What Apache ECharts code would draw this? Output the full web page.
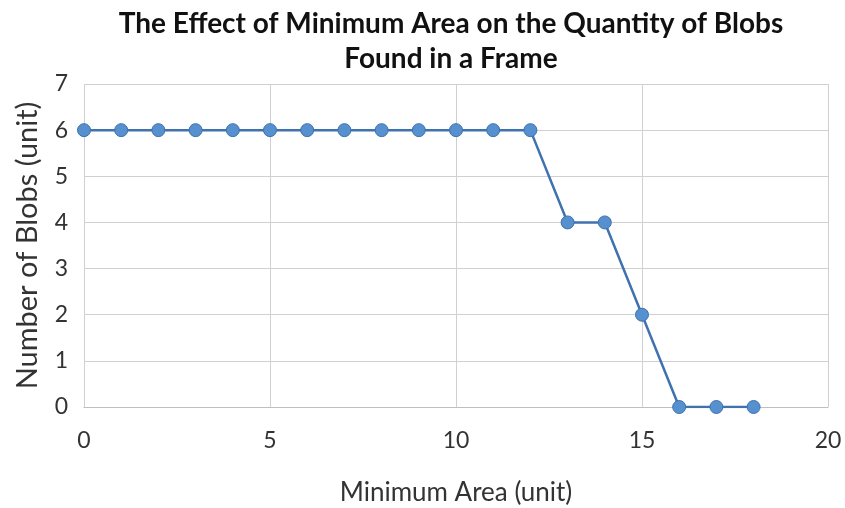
<!DOCTYPE html>
<html>
<head>
<meta charset="utf-8">
<script src="https://cdn.jsdelivr.net/npm/echarts@6/dist/echarts.min.js"></script>
<style>
  html, body { margin: 0; padding: 0; background: #fff; }
  #chart { width: 845px; height: 508px; }
</style>
</head>
<body>
<div id="chart"></div>
<script>
// Minimum area setting (x) and blob count found (y)
const minArea = [0, 1, 2, 3, 4, 5, 6, 7, 8, 9, 10, 11, 12, 13, 14, 15, 16, 17, 18];
const blobCount = [6, 6, 6, 6, 6, 6, 6, 6, 6, 6, 6, 6, 6, 4, 4, 2, 0, 0, 0];

const titleText = 'The Effect of Minimum Area on the Quantity of Blobs\nFound in a Frame';
const xName = 'Minimum Area (unit)';
const yName = 'Number of Blobs (unit)';

const points = minArea.map((x, i) => [x, blobCount[i]]);

const font = 'Lato, "Open Sans", sans-serif';
const chart = echarts.init(document.getElementById('chart'));
chart.setOption({
  animation: false,
  backgroundColor: '#ffffff',
  title: {
    text: titleText,
    left: 446,
    textAlign: 'center',
    top: 1,
    textStyle: {
      fontFamily: font,
      fontWeight: 'bold',
      fontSize: 28,
      lineHeight: 35,
      color: '#111'
    }
  },
  grid: { left: 84, right: 17, top: 84, bottom: 101, outerBoundsMode: 'none', containLabel: false },
  xAxis: {
    type: 'value',
    min: 0, max: 20, interval: 5,
    name: xName,
    nameLocation: 'middle',
    nameGap: 73,
    nameTextStyle: { fontFamily: font, fontSize: 26, color: '#333' },
    axisLine: { show: true, lineStyle: { color: '#bfbfbf', width: 1 } },
    axisTick: { show: false },
    axisLabel: { fontFamily: font, fontSize: 23, color: '#333', margin: 22 },
    splitLine: { show: true, lineStyle: { color: '#d0d0d0', width: 1 } }
  },
  yAxis: {
    type: 'value',
    min: 0, max: 7, interval: 1,
    name: yName,
    nameLocation: 'middle',
    nameGap: 42,
    nameTextStyle: { fontFamily: font, fontSize: 29, color: '#333' },
    axisLine: { show: false },
    axisTick: { show: false },
    axisLabel: { fontFamily: font, fontSize: 23, color: '#333', margin: 16 },
    splitLine: { show: true, lineStyle: { color: '#d0d0d0', width: 1 } }
  },
  series: [{
    type: 'line',
    data: points,
    symbol: 'circle',
    symbolSize: 13,
    lineStyle: { color: '#3f72ae', width: 2.5 },
    itemStyle: { color: '#5690cf', borderColor: '#3f72ae', borderWidth: 1 }
  }]
});
</script>
</body>
</html>
